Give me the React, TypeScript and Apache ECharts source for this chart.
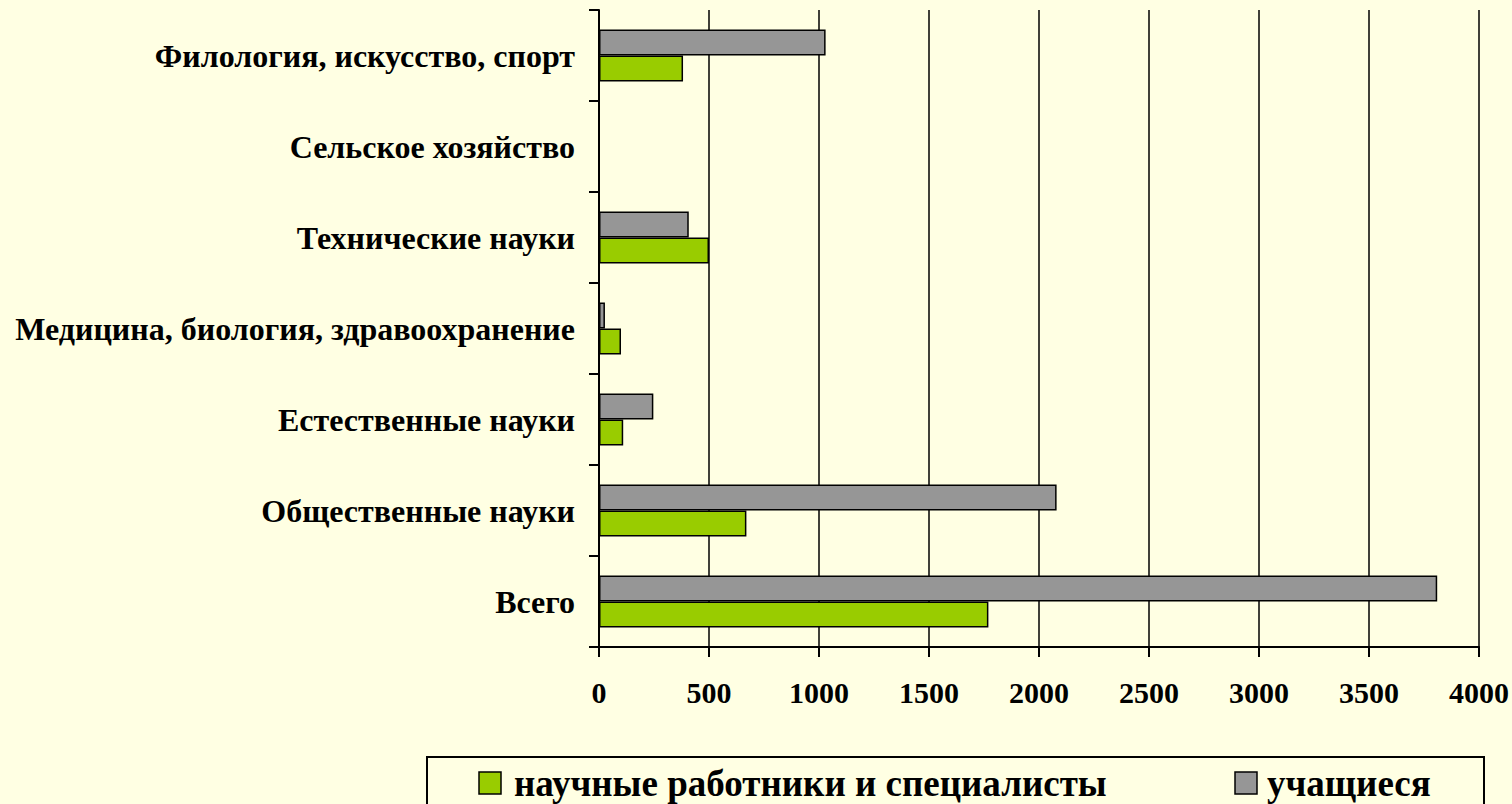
import React, { useEffect, useRef } from "react";
import * as echarts from "echarts";

const categories = [
  "Всего",
  "Общественные науки",
  "Естественные науки",
  "Медицина, биология, здравоохранение",
  "Технические науки",
  "Сельское хозяйство",
  "Филология, искусство, спорт",
];
const scientists = [1770, 670, 110, 100, 500, 0, 382];
const students = [3810, 2080, 247, 27, 408, 0, 1030];
const seriesNames = ["научные работники и специалисты", "учащиеся"];
const seriesColors = ["#99CC00", "#969696"];
const xTicks = { min: 0, max: 4000, interval: 500 };

const FONT = "Liberation Serif";

export default function App() {
  const ref = useRef<HTMLDivElement>(null);
  useEffect(() => {
    if (!ref.current) return;
    const chart = echarts.init(ref.current, null, { renderer: "svg" });
    const legendItems = [
      { iconX: 479, textX: 514 },
      { iconX: 1235, textX: 1267 },
    ];
    const legendGraphics: any[] = [
      {
        type: "rect",
        shape: { x: 427, y: 757, width: 1057, height: 80 },
        style: { fill: "none", stroke: "#000", lineWidth: 2 },
        silent: true,
      },
    ];
    legendItems.forEach((it, i) => {
      legendGraphics.push({
        type: "rect",
        shape: { x: it.iconX, y: 772, width: 22, height: 22 },
        style: { fill: seriesColors[i], stroke: "#000", lineWidth: 1.5 },
        silent: true,
      });
      legendGraphics.push({
        type: "text",
        x: it.textX,
        y: 783,
        style: {
          text: seriesNames[i],
          fontSize: 37,
          fontWeight: "bold",
          fontFamily: FONT,
          fill: "#000",
          verticalAlign: "middle",
          align: "left",
        },
        silent: true,
      });
    });
    chart.setOption({
      animation: false,
      backgroundColor: "#FFFFE3",
      textStyle: { fontFamily: FONT },
      grid: { left: 599, right: 33, top: 10, bottom: 157, containLabel: false },
      legend: { show: false, data: seriesNames },
      graphic: legendGraphics,
      xAxis: {
        type: "value",
        min: xTicks.min,
        max: xTicks.max,
        interval: xTicks.interval,
        axisLine: { show: true, lineStyle: { color: "#000", width: 2 } },
        axisTick: { show: true, length: 10, lineStyle: { color: "#000", width: 2 } },
        splitLine: { show: true, lineStyle: { color: "#000", width: 1.5 } },
        axisLabel: {
          color: "#000",
          fontSize: 30,
          fontWeight: "bold",
          fontFamily: FONT,
          margin: 30,
          formatter: (v: number) => String(v),
        },
      },
      yAxis: {
        type: "category",
        data: categories,
        axisLine: { show: true, lineStyle: { color: "#000", width: 2 } },
        axisTick: { show: true, length: 10, lineStyle: { color: "#000", width: 2 } },
        splitLine: { show: false },
        axisLabel: { color: "#000", fontSize: 32, fontWeight: "bold", fontFamily: FONT, margin: 24 },
      },
      series: [
        {
          name: seriesNames[1],
          type: "bar",
          data: students,
          barWidth: 26,
          barGap: "0%",
          itemStyle: { color: seriesColors[1], borderColor: "#000", borderWidth: 1.5 },
        },
        {
          name: seriesNames[0],
          type: "bar",
          data: scientists,
          barWidth: 26,
          barGap: "0%",
          itemStyle: { color: seriesColors[0], borderColor: "#000", borderWidth: 1.5 },
        },
      ],
    });
    return () => chart.dispose();
  }, []);
  return (
    <div
      ref={ref}
      style={{ position: "fixed", left: 0, top: 0, width: 1512, height: 804 }}
    />
  );
}
